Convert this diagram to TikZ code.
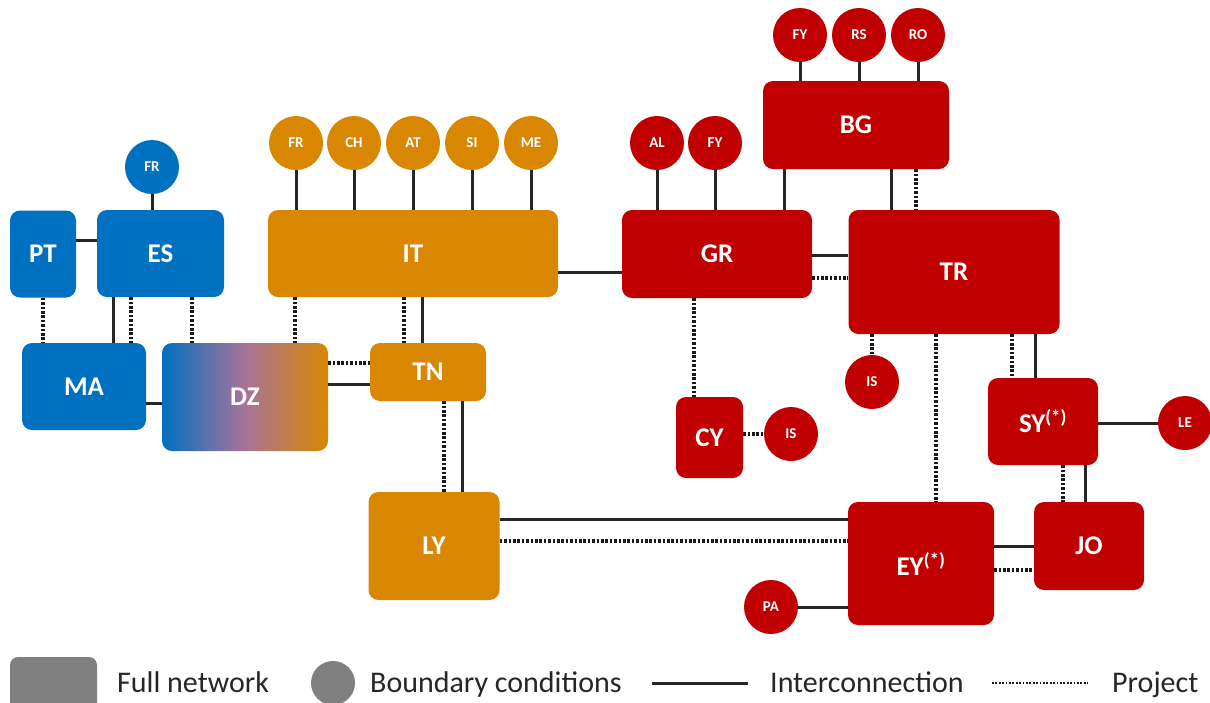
\documentclass[tikz,border=0pt]{standalone}
\usepackage{fontspec}
\setmainfont{Carlito}
\usepackage{tikz}

\definecolor{netblue}{RGB}{0,112,192}
\definecolor{netorange}{RGB}{217,135,0}
\definecolor{netred}{RGB}{192,0,0}
\definecolor{netmix}{RGB}{168,115,152}
\definecolor{netgray}{RGB}{128,128,128}

\begin{document}
\begin{tikzpicture}[x=1pt,y=-1pt,
    net/.style={rounded corners=10pt,inner sep=0pt,text=white,
      font=\bfseries\fontsize{27}{27}\selectfont},
    dims/.style 2 args={minimum width=#1pt,minimum height=#2pt},
    bound/.style={circle,inner sep=0pt,minimum size=54pt,text=white,
      font=\bfseries\fontsize{15}{15}\selectfont},
    link/.style={line width=3pt,draw=black!85},
    proj/.style={line width=3.2pt,draw=black!90,dash pattern=on 2.6pt off 1.8pt}]

\useasboundingbox (0,0) rectangle (1210,702);
\clip (0,0) rectangle (1210,702);

% Full networks
\node[net,dims={66}{87},fill=netblue] (PT) at (43,254) {PT};
\node[net,dims={127}{87},fill=netblue] (ES) at (160.5,253.5) {ES};
\node[net,dims={124}{87},fill=netblue] (MA) at (84,386.5) {MA};
\node[net,dims={166}{108},left color=netblue,right color=netorange,middle color=netmix] (DZ) at (245,397) {DZ};
\node[net,dims={290}{87},fill=netorange] (IT) at (413,253.5) {IT};
\node[net,dims={116}{58},fill=netorange] (TN) at (428,372) {TN};
\node[net,dims={131}{108},fill=netorange] (LY) at (434,546) {LY};
\node[net,dims={190}{88},fill=netred] (GR) at (717,254) {GR};
\node[net,dims={186}{88},fill=netred] (BG) at (856,125) {BG};
\node[net,dims={211}{124},fill=netred] (TR) at (954,272) {TR};
\node[net,dims={67}{81},fill=netred] (CY) at (709.5,437.5) {CY};
\node[net,dims={110}{87},fill=netred] (SY) at (1043,421.5) {SY\textsuperscript{(*)}};
\node[net,dims={146}{123},fill=netred] (EY) at (921,563.5) {EY\textsuperscript{(*)}};
\node[net,dims={110}{88},fill=netred] (JO) at (1089,546) {JO};

% Boundary conditions
\node[bound,fill=netblue] (frES) at (152,167) {FR};
\node[bound,fill=netorange] (frIT) at (296,143) {FR};
\node[bound,fill=netorange] (chIT) at (354,143) {CH};
\node[bound,fill=netorange] (atIT) at (413,143) {AT};
\node[bound,fill=netorange] (siIT) at (472,143) {SI};
\node[bound,fill=netorange] (meIT) at (531,143) {ME};
\node[bound,fill=netred] (alGR) at (657,143) {AL};
\node[bound,fill=netred] (fyGR) at (715,143) {FY};
\node[bound,fill=netred] (fyBG) at (800,35) {FY};
\node[bound,fill=netred] (rsBG) at (859,35) {RS};
\node[bound,fill=netred] (roBG) at (918,35) {RO};
\node[bound,fill=netred] (isCY) at (791,434) {IS};
\node[bound,fill=netred] (isTR) at (872,382) {IS};
\node[bound,fill=netred] (leSY) at (1185,423) {LE};
\node[bound,fill=netred] (paEY) at (771,607) {PA};

% From ES: FR, PT, MA, DZ
\draw[link] (frES) -- (frES |- ES.north);
\draw[link] (PT.east |- 0,240) -- (ES.west |- 0,240);
\draw[proj] (PT.south -| 43,0) -- (MA.north -| 43,0);
\draw[link] (ES.south -| 113,0) -- (MA.north -| 113,0);
\draw[proj] (ES.south -| 131,0) -- (MA.north -| 131,0);
\draw[proj] (ES.south -| 192,0) -- (DZ.north -| 192,0);
\draw[link] (MA.east |- 0,403) -- (DZ.west |- 0,403);

% From IT: boundaries, DZ, TN, GR
\foreach \b in {frIT,chIT,atIT,siIT,meIT}
  \draw[link] (\b) -- (\b |- IT.north);
\draw[proj] (IT.south -| 295,0) -- (DZ.north -| 295,0);
\draw[proj] (IT.south -| 404,0) -- (TN.north -| 404,0);
\draw[link] (IT.south -| 422,0) -- (TN.north -| 422,0);
\draw[link] (IT.east |- 0,272) -- (GR.west |- 0,272);

% From TN: DZ, LY
\draw[proj] (DZ.east |- 0,363) -- (TN.west |- 0,363);
\draw[link] (DZ.east |- 0,384) -- (TN.west |- 0,384);
\draw[proj] (TN.south -| 444,0) -- (LY.north -| 444,0);
\draw[link] (TN.south -| 462,0) -- (LY.north -| 462,0);

% From LY: EY
\draw[link] (LY.east |- 0,519) -- (EY.west |- 0,519);
\draw[proj] (LY.east |- 0,541) -- (EY.west |- 0,541);

% From GR: AL, FY, BG, TR, CY
\draw[link] (alGR) -- (alGR |- GR.north);
\draw[link] (fyGR) -- (fyGR |- GR.north);
\draw[link] (GR.north -| 784,0) -- (BG.south -| 784,0);
\draw[link] (GR.east |- 0,255) -- (TR.west |- 0,255);
\draw[proj] (GR.east |- 0,278) -- (TR.west |- 0,278);
\draw[proj] (GR.south -| 694,0) -- (CY.north -| 694,0);
\draw[proj] (CY.east |- 0,434) -- (isCY);

% From BG: FY, RS, RO, TR
\foreach \b in {fyBG,rsBG,roBG}
  \draw[link] (\b) -- (\b |- BG.north);
\draw[link] (BG.south -| 891,0) -- (TR.north -| 891,0);
\draw[proj] (BG.south -| 916,0) -- (TR.north -| 916,0);

% From TR: IS, EY, SY
\draw[proj] (TR.south -| isTR) -- (isTR);
\draw[proj] (TR.south -| 936,0) -- (EY.north -| 936,0);
\draw[proj] (TR.south -| 1012,0) -- (SY.north -| 1012,0);
\draw[link] (TR.south -| 1035,0) -- (SY.north -| 1035,0);

% From SY: LE, JO
\draw[link] (SY.east |- leSY) -- (leSY);
\draw[proj] (SY.south -| 1063,0) -- (JO.north -| 1063,0);
\draw[link] (SY.south -| 1085,0) -- (JO.north -| 1085,0);

% From EY: JO, PA
\draw[link] (EY.east |- 0,546) -- (JO.west |- 0,546);
\draw[proj] (EY.east |- 0,570) -- (JO.west |- 0,570);
\draw[link] (paEY) -- (paEY -| EY.west);

% Legend
\node[rounded corners=8pt,fill=netgray,minimum width=87pt,minimum height=56pt,inner sep=0pt] (keynet) at (53.5,685) {};
\node[circle,fill=netgray,minimum size=44pt,inner sep=0pt] (keybound) at (333,683) {};
\coordinate (linkA) at (652,683);
\coordinate (linkB) at (748,683);
\coordinate (projA) at (992,683);
\coordinate (projB) at (1088,683);
\draw[link] (linkA) -- (linkB);
\draw[proj,line width=2.2pt,dash pattern=on 1.8pt off 1.6pt] (projA) -- (projB);
\begin{scope}[font=\fontsize{30}{30}\selectfont,text=black!85,inner sep=0pt]
\node[anchor=base west] (txtnet) at (117,692) {Full network};
\node[anchor=base west] (txtbound) at (370,692) {Boundary conditions};
\node[anchor=base west] (txtlink) at (770,692) {Interconnection};
\node[anchor=base west] (txtproj) at (1112,692) {Project};
\end{scope}

\end{tikzpicture}
\end{document}
